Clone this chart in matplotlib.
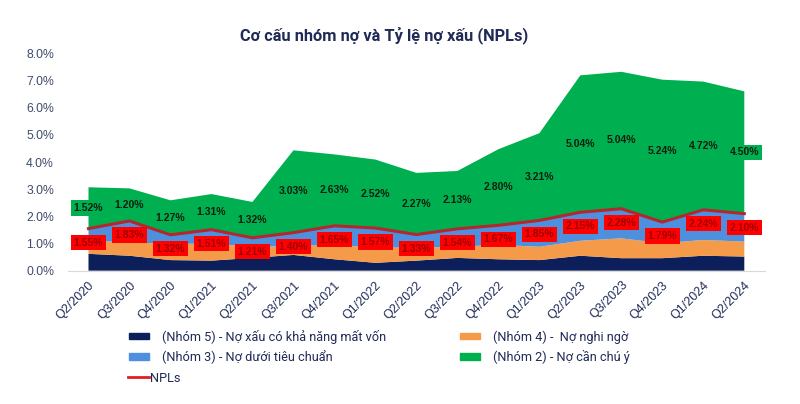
import matplotlib
matplotlib.use("Agg")
import matplotlib.pyplot as plt
from matplotlib.patches import Patch
from matplotlib.lines import Line2D

plt.rcParams['font.family'] = ['Liberation Sans', 'DejaVu Sans']

quarters = ["Q2/2020", "Q3/2020", "Q4/2020", "Q1/2021", "Q2/2021", "Q3/2021",
            "Q4/2021", "Q1/2022", "Q2/2022", "Q3/2022", "Q4/2022", "Q1/2023",
            "Q2/2023", "Q3/2023", "Q4/2023", "Q1/2024", "Q2/2024"]

# % du nợ, ước lượng từ hình
nhom5 = [0.62, 0.55, 0.39, 0.37, 0.47, 0.58, 0.42, 0.29, 0.37, 0.47, 0.42, 0.39, 0.55, 0.46, 0.46, 0.55, 0.52]
nhom4 = [0.48, 0.50, 0.59, 0.63, 0.41, 0.32, 0.53, 0.56, 0.48, 0.41, 0.53, 0.49, 0.55, 0.73, 0.55, 0.58, 0.55]
nhom3 = [0.45, 0.78, 0.34, 0.51, 0.33, 0.50, 0.70, 0.72, 0.48, 0.66, 0.72, 0.97, 1.05, 1.09, 0.78, 1.11, 1.03]
nhom2 = [1.52, 1.20, 1.27, 1.31, 1.32, 3.03, 2.63, 2.52, 2.27, 2.13, 2.80, 3.21, 5.04, 5.04, 5.24, 4.72, 4.50]
npl   = [1.55, 1.83, 1.32, 1.51, 1.21, 1.40, 1.65, 1.57, 1.33, 1.54, 1.67, 1.85, 2.15, 2.28, 1.79, 2.24, 2.10]

c5, c4, c3, c2 = "#0C1F5B", "#F59A48", "#4F90DE", "#00B050"
c_npl = "#B3272D"
navy = "#1F2A56"
leg_font = {"family": ["Roboto", "DejaVu Sans"], "size": 9.2}

fig = plt.figure(figsize=(8, 4.04), dpi=100)
ax = fig.add_axes([0.085, 0.33, 0.871, 0.538])

x = list(range(len(quarters)))
ax.stackplot(x, nhom5, nhom4, nhom3, nhom2, colors=[c5, c4, c3, c2], linewidth=0)
ax.plot(x, npl, color=c_npl, lw=2.2, zorder=3)

for i in x:
    ax.annotate(f"{npl[i]:.2f}%", (i, npl[i]), xytext=(0, -14), textcoords="offset pixels",
                ha="center", va="center", fontsize=7.5, fontweight="bold", color="#A00000",
                bbox=dict(boxstyle="square,pad=0.25", fc="#FF0000", ec="none"), zorder=4)
    ax.text(i, npl[i] + nhom2[i] / 2, f"{nhom2[i]:.2f}%", ha="center", va="center",
            fontsize=7.5, fontweight="bold", color="#0E1E0E",
            bbox=dict(boxstyle="square,pad=0.25", fc=c2, ec="none"), zorder=4)

ax.set_xlim(-0.5, len(quarters) - 0.5)
ax.set_ylim(0, 8)
ax.set_yticks(range(9))
ax.set_yticklabels([f"{v:.1f}%" for v in range(9)])
ax.set_xticks(x)
ax.set_xticklabels(quarters, rotation=45, ha="right", rotation_mode="anchor")
ax.tick_params(axis="y", length=0, pad=10, labelsize=8.8, labelcolor="#3E4B6B")
ax.tick_params(axis="x", length=0, pad=6, labelsize=9, labelcolor=navy)
for s in ["top", "right", "left"]:
    ax.spines[s].set_visible(False)
ax.spines["bottom"].set_color("#D9D9D9")

fig.text(0.48, 0.913, "Cơ cấu nhóm nợ và Tỷ lệ nợ xấu (NPLs)", ha="center", va="center",
         fontsize=11.8, fontweight="bold", color=navy, family=["Roboto", "DejaVu Sans"])

handles = [
    Patch(color=c5, label="(Nhóm 5) - Nợ xấu có khả năng mất vốn"),
    Patch(color=c3, label="(Nhóm 3) - Nợ dưới tiêu chuẩn"),
    Patch(color=c4, label="(Nhóm 4) -  Nợ nghi ngờ"),
    Patch(color=c2, label="(Nhóm 2) - Nợ cần chú ý"),
]
leg = fig.legend(handles=handles, ncol=2, loc="upper left", bbox_to_anchor=(0.161, 0.184),
                 frameon=False, handlelength=1.56, handleheight=0.4,
                 handletextpad=1.0, columnspacing=5.85, labelspacing=0.5,
                 borderpad=0, borderaxespad=0, prop=leg_font)
for t in leg.get_texts():
    t.set_color(navy)

leg2 = fig.legend(handles=[Line2D([], [], color="#E02020", lw=2, label="NPLs")],
                  loc="upper left", bbox_to_anchor=(0.160, 0.080), frameon=False,
                  handlelength=1.64, handletextpad=0.05, borderpad=0, borderaxespad=0,
                  prop=leg_font)
for t in leg2.get_texts():
    t.set_color(navy)

fig.savefig("out.png", dpi=100)
